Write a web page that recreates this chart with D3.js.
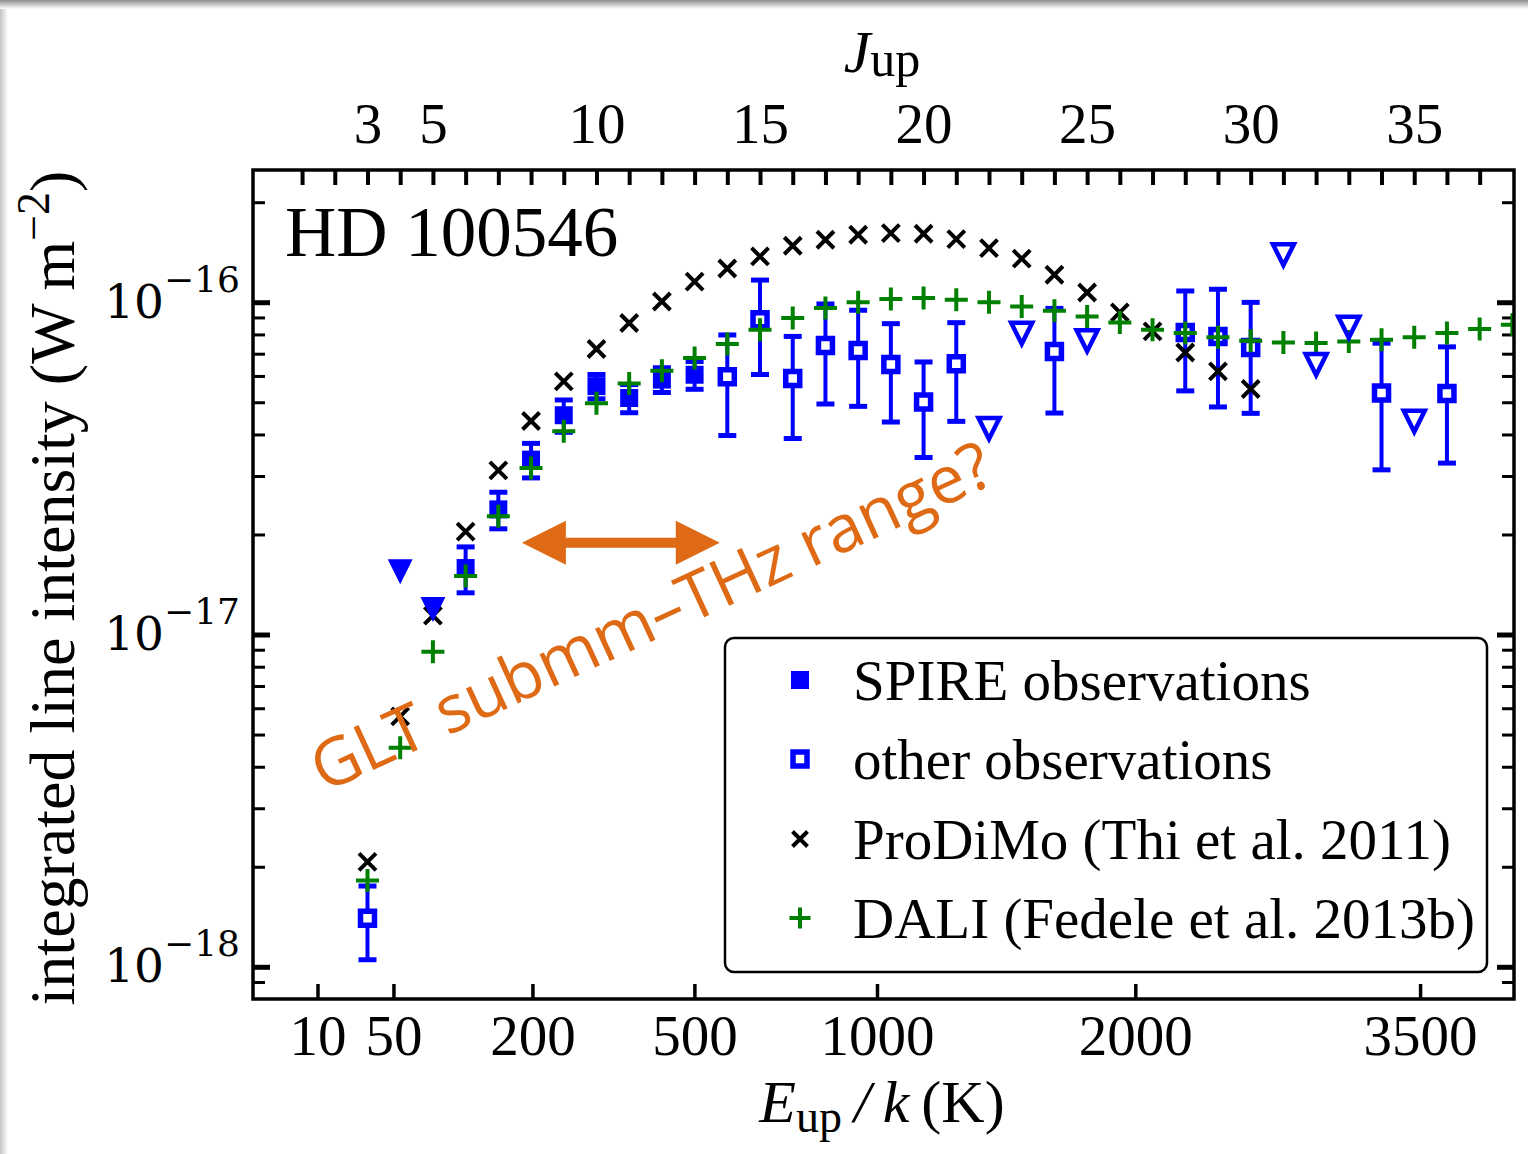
<!DOCTYPE html>
<html>
<head>
<meta charset="utf-8">
<script src="https://cdn.jsdelivr.net/npm/d3@7"></script>
<style>
  body { margin: 0; background: #fff; }
  svg { display: block; }
</style>
</head>
<body>
<script>
// ---- data ----
// ProDiMo model, J_up = 3..30
const prodimoJ = [3, 4, 5, 6, 7, 8, 9, 10, 11, 12, 13, 14, 15, 16, 17, 18, 19, 20, 21, 22, 23, 24, 25, 26, 27, 28, 29, 30];
const prodimoFlux = [2.07e-18, 5.67e-18, 1.14e-17, 2.04e-17, 3.12e-17, 4.39e-17, 5.78e-17, 7.23e-17, 8.66e-17,
  1.005e-16, 1.153e-16, 1.263e-16, 1.374e-16, 1.479e-16, 1.542e-16, 1.596e-16, 1.615e-16, 1.607e-16, 1.549e-16,
  1.455e-16, 1.352e-16, 1.21e-16, 1.07e-16, 9.32e-17, 8.17e-17, 7.06e-17, 6.19e-17, 5.48e-17];

// DALI model, J_up = 3..38
const daliJ = [3, 4, 5, 6, 7, 8, 9, 10, 11, 12, 13, 14, 15, 16, 17, 18, 19, 20, 21, 22, 23, 24, 25, 26, 27, 28, 29, 30,
  31, 32, 33, 34, 35, 36, 37, 38];
const daliFlux = [1.82e-18, 4.56e-18, 8.87e-18, 1.50e-17, 2.27e-17, 3.17e-17, 4.09e-17, 4.97e-17, 5.69e-17,
  6.22e-17, 6.79e-17, 7.49e-17, 8.27e-17, 8.96e-17, 9.61e-17, 1.0e-16, 1.022e-16, 1.029e-16, 1.017e-16,
  1.0e-16, 9.71e-17, 9.43e-17, 9.06e-17, 8.69e-17, 8.27e-17, 8.08e-17, 7.84e-17, 7.66e-17,
  7.57e-17, 7.54e-17, 7.62e-17, 7.71e-17, 7.85e-17, 8.08e-17, 8.31e-17, 8.56e-17];

// SPIRE detections and upper limits
const spireJ = [6, 7, 8, 9, 10, 11, 12, 13];
const spireFlux = [1.585e-17, 2.38e-17, 3.36e-17, 4.57e-17, 5.59e-17, 5.15e-17, 5.85e-17, 6.05e-17];
const spireErr = [0.25e-17, 0.30e-17, 0.40e-17, 0.51e-17, 0.47e-17, 0.50e-17, 0.50e-17, 0.58e-17];
const spireLimJ = [4, 5];
const spireLimFlux = [1.545e-17, 1.19e-17];

// other observations and upper limits
const otherJ = [3, 14, 15, 16, 17, 18, 19, 20, 21, 24, 28, 29, 30, 34, 36];
const otherFlux = [1.40e-18, 5.97e-17, 8.86e-17, 5.89e-17, 7.41e-17, 7.16e-17, 6.49e-17, 5.01e-17, 6.53e-17,
  7.11e-17, 8.11e-17, 7.89e-17, 7.31e-17, 5.33e-17, 5.31e-17];
const otherErr = [0.35e-18, 2.0e-17, 2.8e-17, 2.0e-17, 2.47e-17, 2.3e-17, 2.13e-17, 1.6e-17, 2.15e-17,
  2.47e-17, 2.7e-17, 3.05e-17, 2.68e-17, 2.2e-17, 2.03e-17];
const otherLimJ = [22, 23, 25, 31, 32, 33, 35];
const otherLimFlux = [4.17e-17, 8.06e-17, 7.66e-17, 1.39e-16, 6.49e-17, 8.41e-17, 4.38e-17];

// axis ticks
const jTicks = [1, 2, 3, 4, 5, 6, 7, 8, 9, 10, 11, 12, 13, 14, 15, 16, 17, 18, 19, 20, 21, 22, 23, 24, 25, 26, 27, 28,
  29, 30, 31, 32, 33, 34, 35, 36, 37];
const jLabels = [3, 5, 10, 15, 20, 25, 30, 35];
const eTicks = [10, 50, 200, 500, 1000, 2000, 3500];
const yMajor = [1e-18, 1e-17, 1e-16];

// annotation arrow (J_up range, flux level)
const arrowJ = [7.72, 13.77];
const arrowFlux = 1.89e-17;

// ---- layout ----
const width = 1528, height = 1154;
const margin = { top: 170, right: 14, bottom: 155, left: 253 };
const blue = "#0000ff", green = "#008000", orange = "#df6a15";
const serif = "'Liberation Serif', 'Times New Roman', serif";

const svg = d3.select("body").append("svg")
  .attr("width", width)
  .attr("height", height);

// faint card shadow along top and left edges
const defs = svg.append("defs");
const gTop = defs.append("linearGradient").attr("id", "shTop").attr("x1", 0).attr("y1", 0).attr("x2", 0).attr("y2", 1);
gTop.append("stop").attr("offset", 0).attr("stop-color", "#8c8c8c");
gTop.append("stop").attr("offset", 1).attr("stop-color", "#ffffff");
const gLeft = defs.append("linearGradient").attr("id", "shLeft").attr("x1", 0).attr("y1", 0).attr("x2", 1).attr("y2", 0);
gLeft.append("stop").attr("offset", 0).attr("stop-color", "#c4c4c4");
gLeft.append("stop").attr("offset", 1).attr("stop-color", "#ffffff");
svg.append("rect").attr("x", 0).attr("y", 0).attr("width", 8).attr("height", height).attr("fill", "url(#shLeft)");
svg.append("rect").attr("x", 0).attr("y", 0).attr("width", width).attr("height", 9).attr("fill", "url(#shTop)");

// scales: x is linear in J_up, bottom axis maps E_up/k onto it (E = B J(J+1))
const B = 2.75;
const eToJ = e => (-1 + Math.sqrt(1 + 4 * e / B)) / 2;

const x = d3.scaleLinear()
  .domain([-0.5, 38.05])
  .range([margin.left, width - margin.right]);

const y = d3.scaleLog()
  .domain([8e-19, 2.5e-16])
  .range([height - margin.bottom, margin.top]);

const x0 = margin.left, x1 = width - margin.right;
const y0 = height - margin.bottom, y1 = margin.top;

defs.append("clipPath").attr("id", "plotClip")
  .append("rect").attr("x", x0).attr("y", y1).attr("width", x1 - x0).attr("height", y0 - y1);

// minor log ticks
const yMinor = [];
[-19, -18, -17, -16].forEach(p => {
  for (let m = 2; m <= 9; m++) {
    const v = m * Math.pow(10, p);
    if (v > y.domain()[0] && v < y.domain()[1]) yMinor.push(v);
  }
});

// ---- axes ----
function styleAxis(g, w) {
  g.select(".domain").remove();
  g.selectAll(".tick line").attr("stroke", "#000").attr("stroke-width", w);
}

// top J_up axis
svg.append("g")
  .attr("transform", `translate(0,${y1})`)
  .call(d3.axisTop(x).tickValues(jTicks).tickSize(-15).tickPadding(27)
    .tickFormat(d => jLabels.includes(d) ? d : ""))
  .call(g => styleAxis(g, 4))
  .selectAll("text").attr("font-family", serif).attr("font-size", 57).attr("fill", "#000");

// bottom E_up axis
svg.append("g")
  .attr("transform", `translate(0,${y0})`)
  .call(d3.axisBottom(x).tickValues(eTicks.map(eToJ)).tickSize(-15).tickPadding(16)
    .tickFormat((d, i) => eTicks[i]))
  .call(g => styleAxis(g, 3.5))
  .selectAll("text").attr("font-family", serif).attr("font-size", 57).attr("fill", "#000");

// left / right minor ticks
svg.append("g").attr("transform", `translate(${x0},0)`)
  .call(d3.axisLeft(y).tickValues(yMinor).tickSize(-12).tickFormat(""))
  .call(g => styleAxis(g, 3));
svg.append("g").attr("transform", `translate(${x1},0)`)
  .call(d3.axisRight(y).tickValues(yMinor).tickSize(-12).tickFormat(""))
  .call(g => styleAxis(g, 3));

// left / right major ticks with 10^n labels
const yLeft = svg.append("g").attr("transform", `translate(${x0},0)`)
  .call(d3.axisLeft(y).tickValues(yMajor).tickSize(-17).tickPadding(13).tickFormat(""))
  .call(g => styleAxis(g, 5));
yLeft.selectAll(".tick text")
  .attr("font-family", "'DejaVu Serif', serif")
  .attr("font-size", 47)
  .attr("fill", "#000")
  .each(function (d) {
    const t = d3.select(this);
    t.append("tspan").text("10");
    t.append("tspan").attr("font-size", 36).attr("dy", "-0.72em")
      .text("\u2212" + Math.round(-Math.log10(d)));
  });
svg.append("g").attr("transform", `translate(${x1},0)`)
  .call(d3.axisRight(y).tickValues(yMajor).tickSize(-17).tickFormat(""))
  .call(g => styleAxis(g, 5));

// ---- marker paths ----
const squarePath = r => `M${-r},${-r}H${r}V${r}H${-r}Z`;
const triDownPath = r => `M0,${r}L${-r},${-r}L${r},${-r}Z`;
const plusPath = r => `M${-r},0H${r}M0,${-r}V${r}`;
const timesPath = r => `M${-r},${-r}L${r},${r}M${-r},${r}L${r},${-r}`;

const plot = svg.append("g").attr("clip-path", "url(#plotClip)");

function errorBars(js, vals, errs) {
  const g = plot.append("g").attr("stroke", blue).attr("stroke-width", 4).attr("fill", "none");
  js.forEach((j, i) => {
    const lo = y(vals[i] - errs[i]), hi = y(vals[i] + errs[i]), cx = x(j);
    g.append("line").attr("x1", cx).attr("x2", cx).attr("y1", lo).attr("y2", hi);
    g.append("line").attr("x1", cx - 9).attr("x2", cx + 9).attr("y1", lo).attr("y2", lo).attr("stroke-width", 5);
    g.append("line").attr("x1", cx - 9).attr("x2", cx + 9).attr("y1", hi).attr("y2", hi).attr("stroke-width", 5);
  });
}

// observations with error bars
errorBars(otherJ, otherFlux, otherErr);
errorBars(spireJ, spireFlux, spireErr);

plot.append("g").selectAll("path")
  .data(otherJ.map((j, i) => [j, otherFlux[i]]))
  .join("path")
  .attr("d", squarePath(7))
  .attr("transform", d => `translate(${x(d[0])},${y(d[1])})`)
  .attr("fill", "#fff").attr("stroke", blue).attr("stroke-width", 5.5);

plot.append("g").selectAll("path")
  .data(spireJ.map((j, i) => [j, spireFlux[i]]))
  .join("path")
  .attr("d", squarePath(9))
  .attr("transform", d => `translate(${x(d[0])},${y(d[1])})`)
  .attr("fill", blue);

// ProDiMo
plot.append("g").selectAll("path")
  .data(prodimoJ.map((j, i) => [j, prodimoFlux[i]]))
  .join("path")
  .attr("d", timesPath(8.5))
  .attr("transform", d => `translate(${x(d[0])},${y(d[1])})`)
  .attr("fill", "none").attr("stroke", "#000").attr("stroke-width", 4);

// DALI
plot.append("g").selectAll("path")
  .data(daliJ.map((j, i) => [j, daliFlux[i]]))
  .join("path")
  .attr("d", plusPath(11.5))
  .attr("transform", d => `translate(${x(d[0])},${y(d[1])})`)
  .attr("fill", "none").attr("stroke", green).attr("stroke-width", 4);

// upper limits
plot.append("g").selectAll("path")
  .data(spireLimJ.map((j, i) => [j, spireLimFlux[i]]))
  .join("path")
  .attr("d", triDownPath(12.5))
  .attr("transform", d => `translate(${x(d[0])},${y(d[1])})`)
  .attr("fill", blue);

plot.append("g").selectAll("path")
  .data(otherLimJ.map((j, i) => [j, otherLimFlux[i]]))
  .join("path")
  .attr("d", triDownPath(10.5))
  .attr("transform", d => `translate(${x(d[0])},${y(d[1])})`)
  .attr("fill", "none").attr("stroke", blue).attr("stroke-width", 4.5).attr("stroke-linejoin", "miter");

// ---- frame ----
svg.append("rect")
  .attr("x", x0).attr("y", y1)
  .attr("width", x1 - x0).attr("height", y0 - y1)
  .attr("fill", "none").attr("stroke", "#000").attr("stroke-width", 3.5);

// ---- annotation ----
const ax0 = x(arrowJ[0]), ax1 = x(arrowJ[1]), ay = y(arrowFlux);
const hl = 44, hw = 22, sw = 5;
svg.append("path")
  .attr("d", `M${ax0},${ay}L${ax0 + hl},${ay - hw}V${ay - sw}H${ax1 - hl}V${ay - hw}L${ax1},${ay}` +
    `L${ax1 - hl},${ay + hw}V${ay + sw}H${ax0 + hl}V${ay + hw}Z`)
  .attr("fill", orange);

svg.append("text")
  .attr("transform", "translate(324,793) rotate(-24.8)")
  .attr("font-family", "'Open Sans', sans-serif")
  .attr("font-size", 66)
  .attr("fill", orange)
  .text("GLT submm\u2013THz range?");

svg.append("text")
  .attr("x", 285).attr("y", 256)
  .attr("font-family", serif).attr("font-size", 71)
  .text("HD 100546");

// ---- axis titles ----
const topTitle = svg.append("text")
  .attr("x", 882).attr("y", 72)
  .attr("text-anchor", "middle")
  .attr("font-family", serif).attr("font-size", 60);
topTitle.append("tspan").attr("font-style", "italic").text("J");
topTitle.append("tspan").attr("font-size", 50).attr("dy", 4).text("up");

const botTitle = svg.append("text")
  .attr("x", 882).attr("y", 1122)
  .attr("text-anchor", "middle")
  .attr("font-family", serif).attr("font-size", 60);
botTitle.append("tspan").attr("font-style", "italic").text("E");
botTitle.append("tspan").attr("font-size", 46).attr("dy", 10).text("up");
botTitle.append("tspan").attr("dy", -10).attr("font-style", "italic").text("\u2009/\u2009k");
botTitle.append("tspan").text("\u2009(K)");

const yTitle = svg.append("text")
  .attr("transform", "translate(74,588) rotate(-90)")
  .attr("text-anchor", "middle")
  .attr("font-family", serif).attr("font-size", 64);
yTitle.append("tspan").text("integrated line intensity (W\u2009m");
yTitle.append("tspan").attr("font-size", 46).attr("dy", -25).text("\u22122");
yTitle.append("tspan").attr("dy", 25).text(")");

// ---- legend ----
const legend = svg.append("g");
legend.append("rect")
  .attr("x", 725).attr("y", 638).attr("width", 762).attr("height", 334).attr("rx", 9)
  .attr("fill", "#fff").attr("stroke", "#000").attr("stroke-width", 2.5);

const legendRows = [
  { label: "SPIRE observations", d: squarePath(9), fill: blue, stroke: "none", sw: 0 },
  { label: "other observations", d: squarePath(7), fill: "#fff", stroke: blue, sw: 5.5 },
  { label: "ProDiMo (Thi et al. 2011)", d: timesPath(7.5), fill: "none", stroke: "#000", sw: 4 },
  { label: "DALI (Fedele et al. 2013b)", d: plusPath(10.5), fill: "none", stroke: green, sw: 4 }
];
const rowY = [680, 759, 839, 918];
legendRows.forEach((r, i) => {
  legend.append("path")
    .attr("d", r.d)
    .attr("transform", `translate(800,${rowY[i]})`)
    .attr("fill", r.fill).attr("stroke", r.stroke).attr("stroke-width", r.sw);
  legend.append("text")
    .attr("x", 853).attr("y", rowY[i] + 20)
    .attr("font-family", serif).attr("font-size", 57)
    .text(r.label);
});
</script>
</body>
</html>
